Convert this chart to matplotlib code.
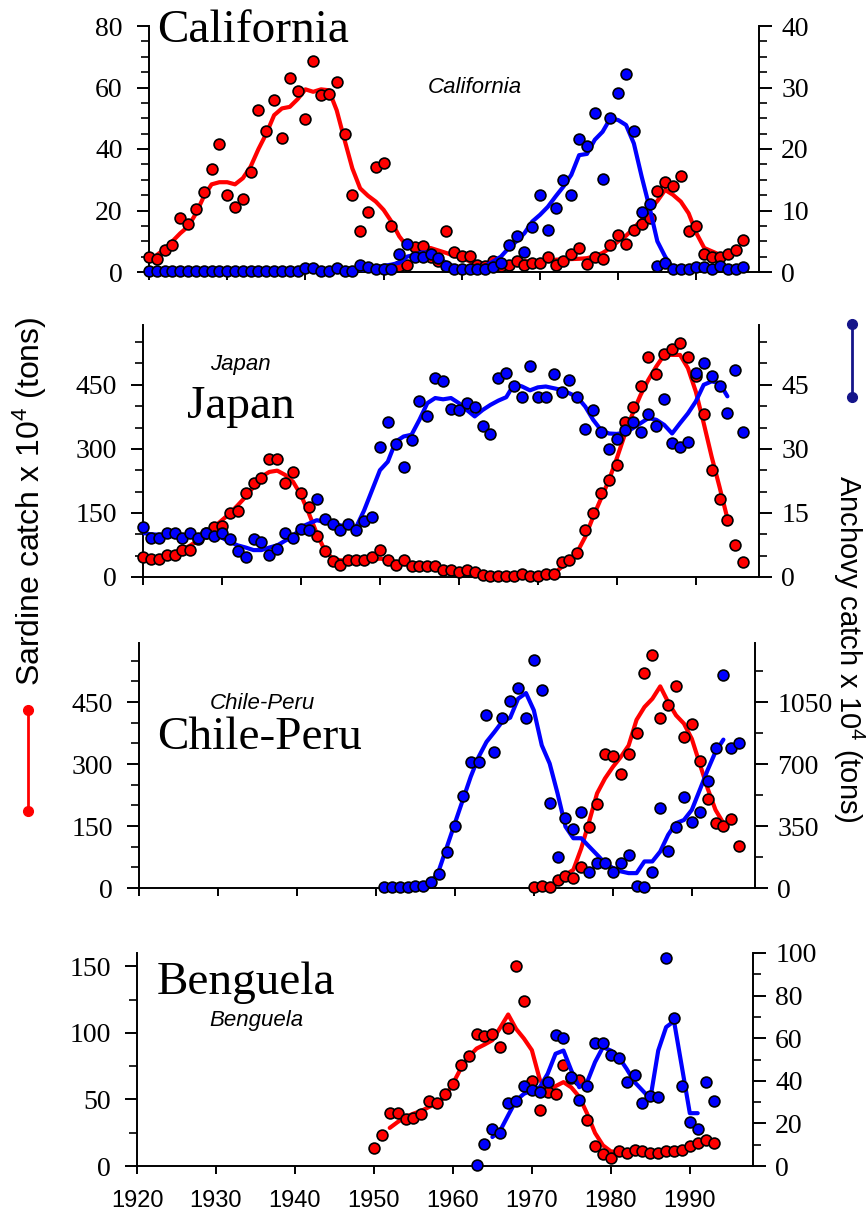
import numpy as np
import matplotlib
matplotlib.use("Agg")
import matplotlib.pyplot as plt
from matplotlib.lines import Line2D
from matplotlib.ticker import MultipleLocator

plt.rcParams['font.family'] = ['Liberation Serif', 'DejaVu Serif']
plt.rcParams['mathtext.default'] = 'regular'

# ------------------------------------------------------------------ data
# California (sardine: left axis, anchovy: right axis), x 10^4 tons
cal_years = np.arange(1920, 1997)
cal_sardine = [4.8, 4.2, 7.2, 8.9, 17.5, 15.7, 20.5, 26.0, 33.5, 41.6,
               25.0, 21.2, 23.8, 32.4, 52.8, 45.8, 55.9, 43.5, 63.1, 58.8,
               49.7, 68.6, 57.5, 57.9, 61.9, 44.8, 25.0, 13.4, 19.5, 34.2,
               35.5, 15.1, 1.8, 2.2, 8.1, 8.3, 5.0, 3.5, 13.4, 6.5,
               5.3, 5.3, 2.4, 1.8, 3.5, 2.0, 2.4, 3.5, 2.2, 2.9,
               2.9, 4.8, 2.2, 3.5, 5.9, 7.8, 2.7, 4.8, 4.2, 8.9,
               12.1, 9.1, 13.5, 15.7, 17.5, 26.2, 29.4, 28.1, 31.2, 13.4,
               15.1, 5.9, 4.8, 4.8, 5.9, 7.2, 10.3]
cal_anchovy = [0.2] * 20 + [
               0.6, 0.6, 0.2, 0.2, 0.6, 0.2, 0.2, 1.1, 0.8, 0.5,
               0.5, 0.5, 2.9, 4.5, 2.4, 2.4, 2.9, 2.3, 0.9, 0.5,
               0.5, 0.5, 0.5, 0.5, 0.8, 1.5, 4.4, 5.8, 3.2, 7.3,
               12.5, 6.8, 10.4, 15.0, 12.5, 21.7, 20.5, 25.8, 15.2, 25.1,
               29.1, 32.2, 22.9, 9.7, 11.1, 0.9, 1.5, 0.5, 0.5, 0.5,
               0.8, 0.8, 0.5, 0.9, 0.5, 0.5, 0.8]
cal_sardine_trend_years = np.arange(1921, 1995)
cal_sardine_trend = [5.5, 7.5, 10.0, 12.6, 14.8, 19.0, 24.5, 28.5, 29.2, 29.2,
                     28.5, 30.5, 34.3, 40.0, 45.0, 51.0, 53.2, 53.7, 56.2, 59.4,
                     58.6, 59.4, 59.1, 52.6, 43.0, 33.7, 27.2, 24.8, 22.9, 20.2,
                     16.4, 11.6, 8.3, 7.2, 7.2, 7.8, 7.0, 6.2, 5.3, 4.5,
                     3.5, 2.4, 1.8, 2.4, 2.7, 2.9, 3.2, 3.5, 3.5, 3.5,
                     3.8, 4.0, 4.1, 4.2, 4.3, 4.5, 5.1, 6.2, 7.8, 10.0,
                     11.8, 14.3, 17.0, 20.2, 23.1, 26.7, 25.1, 22.9, 19.1, 12.6,
                     7.8, 6.7, 5.6, 5.6]
cal_anchovy_trend_years = np.arange(1947, 1988)
cal_anchovy_trend = [0.3, 0.5, 0.8, 1.0, 1.2, 1.5, 2.5, 2.8, 3.2, 3.1,
                     2.3, 1.5, 0.9, 0.7, 0.6, 0.7, 1.0, 1.7, 2.5, 3.9,
                     5.0, 6.3, 8.2, 9.3, 10.6, 12.3, 13.9, 15.8, 19.0, 19.2,
                     21.5, 22.8, 25.0, 24.7, 23.9, 20.9, 15.5, 10.5, 5.0, 2.5,
                     0.6]

# Japan
jap_years = np.arange(1920, 1997)
jap_sardine = [47, 43, 43, 51, 51, 64, 64, 88, 102, 116,
               119, 150, 155, 197, 219, 232, 276, 276, 219, 245,
               197, 164, 95, 61, 38, 27, 39, 39, 39, 47,
               63, 39, 27, 39, 25, 25, 25, 25, 16, 16,
               12, 16, 12, 5, 2, 2, 2, 2, 8, 2,
               2, 6, 6, 34, 39, 56, 110, 151, 196, 228,
               262, 364, 399, 448, 516, 476, 522, 534, 548, 516,
               470, 381, 250, 182, 133, 74, 34]
jap_anchovy = [11.6, 9.2, 9.2, 10.2, 10.2, 9.2, 10.2, 9.2, 10.2, 9.6,
               10.2, 8.8, 6.1, 4.7, 8.8, 8.1, 5.1, 6.5, 10.2, 9.2,
               11.3, 11.0, 18.2, 13.5, 12.5, 11.0, 12.5, 11.0, 13.1, 14.1,
               30.4, 36.2, 31.1, 25.8, 32.1, 41.2, 37.6, 46.6, 45.8, 39.4,
               39.1, 40.7, 39.9, 35.4, 33.5, 46.6, 47.7, 44.8, 42.1, 49.3,
               42.1, 42.1, 47.6, 43.4, 46.2, 42.1, 34.6, 39.0, 33.9, 29.9,
               32.2, 34.4, 36.4, 33.9, 38.1, 35.4, 41.6, 31.3, 30.4, 31.7,
               47.7, 50.2, 47.1, 44.8, 38.5, 48.5, 34.0]
jap_sardine_trend_years = np.arange(1920, 1995)
jap_sardine_trend = [47, 46, 47, 51, 57, 64, 74, 86, 101, 117,
                     133, 149, 168, 188, 211, 235, 246, 249, 239, 223,
                     192, 149, 102, 63, 43, 39, 39, 39, 41, 41,
                     43, 41, 35, 31, 27, 25, 24, 23, 20, 17,
                     14, 12, 9, 6, 4, 3, 2, 2, 2, 2,
                     2, 4, 8, 23, 35, 59, 94, 141, 184, 227,
                     278, 333, 383, 426, 462, 493, 520, 520, 520, 489,
                     434, 360, 282, 211, 137]
jap_anchovy_trend_years = np.arange(1920, 1995)
jap_anchovy_trend = [10.3, 10.0, 9.9, 9.8, 9.6, 9.5, 9.4, 9.7, 10.0, 10.0,
                     9.2, 8.2, 7.4, 6.9, 6.3, 6.3, 6.9, 7.4, 8.5, 9.4,
                     11.7, 12.5, 13.3, 12.9, 12.5, 12.1, 11.7, 11.7, 15.6, 20.3,
                     25.0, 27.0, 31.7, 32.9, 33.3, 36.8, 40.7, 41.9, 41.6, 41.9,
                     40.7, 39.1, 37.6, 39.1, 40.3, 41.3, 42.1, 45.2, 44.6, 43.7,
                     44.4, 44.6, 44.2, 43.8, 43.0, 42.1, 39.9, 36.8, 34.4, 33.6,
                     33.5, 33.8, 34.8, 36.0, 37.2, 36.8, 35.6, 33.6, 36.0, 38.3,
                     41.1, 45.0, 45.8, 45.4, 42.3]

# Chile-Peru
chp_sardine_years = np.arange(1970, 1997)
chp_sardine = [1.6, 5.6, 1.6, 20, 28, 24, 51, 147, 203, 324,
               319, 275, 324, 375, 520, 565, 411, 442, 488, 365,
               398, 307, 215, 157, 151, 166, 102]
chp_anchovy_years = np.arange(1951, 1997)
chp_anchovy = [3, 3, 3, 3, 13, 13, 34, 79, 203, 352,
               521, 712, 712, 979, 769, 960, 1054, 1129, 960, 1288,
               1119, 482, 174, 398, 332, 429, 90, 144, 144, 90,
               144, 188, 13, 4, 90, 450, 210, 343, 516, 375,
               431, 606, 791, 1204, 788, 821]
chp_sardine_trend_years = np.arange(1974, 1995)
chp_sardine_trend = [32, 44, 96, 161, 229, 265, 293, 317, 345, 407,
                     438, 458, 488, 450, 418, 398, 361, 301, 241, 189, 157]
chp_anchovy_trend_years = np.arange(1954, 1995)
chp_anchovy_trend = [3, 6, 9, 28, 103, 234, 366, 497, 628, 740,
                     825, 881, 940, 962, 1069, 1101, 1003, 806, 703, 534,
                     347, 281, 281, 234, 188, 141, 113, 94, 84, 84,
                     150, 150, 206, 300, 366, 384, 441, 553, 666, 769, 838]

# Benguela
ben_sardine_years = np.arange(1950, 1994)
ben_sardine = [13.5, 23.6, 40, 40, 35, 36, 39, 48.6, 47.4, 54.4,
               61.4, 75.7, 82.7, 99.5, 97.7, 99.5, 89.5, 104, 150, 124,
               63.7, 41.9, 55.6, 54.4, 75.7, 66.2, 64.9, 34.8, 14.8, 9.3,
               6.3, 11, 9.8, 12.3, 11, 9.8, 9.8, 11, 11, 12.3,
               14.8, 17.3, 19.3, 17.3]
ben_anchovy_years = np.arange(1963, 1994)
ben_anchovy = [0.6, 10.2, 17.2, 15.5, 29.5, 30.3, 37.5, 35.5, 34.7, 39.4,
               61.3, 60.2, 41.7, 31.1, 37.5, 57.7, 57.7, 52.3, 50.6, 39.4,
               42.5, 29.5, 32.8, 32.3, 97.5, 69.4, 37.5, 20.6, 17.2, 39.4, 30.5]
ben_sardine_trend_years = np.arange(1952, 1992)
ben_sardine_trend = [28.6, 33, 36.8, 39.3, 41.4, 44.4, 46.9, 51.9, 61.9, 73.2,
                     82, 88.2, 91.2, 94.5, 104, 113.8, 103, 95.7, 87, 65,
                     56, 60, 63, 59, 52, 39.3, 24.8, 15.5, 11, 10.5,
                     10.5, 10.5, 10.5, 9.8, 10.3, 10.5, 11, 12.3, 14.3, 16.3]
ben_anchovy_trend_years = np.arange(1965, 1992)
ben_anchovy_trend = [13.6, 16.7, 23.8, 30.8, 33.9, 35.5, 37, 43.3, 52.7, 54.2,
                     44.8, 37, 39.4, 48.8, 55.8, 54.2, 51.1, 45.6, 39.4, 35.5,
                     31.6, 54.2, 65.2, 68, 46.4, 24.8, 24.8]

# tick labels
x_ticks = list(range(1920, 2000, 10))
cal_left_ticks = [0, 20, 40, 60, 80]
cal_right_ticks = [0, 10, 20, 30, 40]
jap_left_ticks = [0, 150, 300, 450]
jap_right_ticks = [0, 15, 30, 45]
chp_left_ticks = [0, 150, 300, 450]
chp_right_ticks = [0, 350, 700, 1050]
ben_left_ticks = [0, 50, 100, 150]
ben_right_ticks = [0, 20, 40, 60, 80, 100]

# ------------------------------------------------------------------ style
RED = '#ff0000'
BLUE = '#0000ff'
NAVY = '#15158a'
W, H = 866, 1213
fig = plt.figure(figsize=(W / 100, H / 100), dpi=100)


def rect(L, R, T, B):
    return [L / W, 1 - B / H, (R - L) / W, (B - T) / H]


def draw_panel(box, ylim_l, ylim_r, lt, rt, lminor, rminor,
               s_years, s_vals, s_ty, s_tv, a_years, a_vals, a_ty, a_tv,
               bottom_labels):
    ax = fig.add_axes(rect(*box))
    ax2 = ax.twinx()
    ax.set_xlim(1920, 1998)
    ax.set_ylim(*ylim_l)
    ax2.set_ylim(*ylim_r)
    ax.plot(s_ty, s_tv, color=RED, lw=3.0, zorder=2, solid_capstyle='round')
    ax.plot(s_years, s_vals, 'o', ms=7.8, mfc=RED, mec='black', mew=1.2,
            zorder=3, clip_on=False)
    ax2.plot(a_ty, a_tv, color=BLUE, lw=3.0, zorder=2, solid_capstyle='round')
    ax2.plot(a_years, a_vals, 'o', ms=7.8, mfc=BLUE, mec='black', mew=1.2,
             zorder=3, clip_on=False)
    for s in ['top', 'right']:
        ax.spines[s].set_visible(False)
    for s in ['top', 'left', 'bottom']:
        ax2.spines[s].set_visible(False)
    for s in ['left', 'bottom']:
        ax.spines[s].set_linewidth(1.4)
    ax2.spines['right'].set_linewidth(1.4)

    ax.set_xticks(x_ticks)
    if bottom_labels:
        ax.set_xticklabels([str(t) for t in x_ticks],
                           fontfamily='Liberation Sans', fontsize=17)
    else:
        ax.set_xticklabels([])
    ax.tick_params(axis='x', direction='out', length=6, width=1.4, pad=11)

    ax.set_yticks(lt)
    ax.set_yticklabels([str(t) for t in lt], fontfamily='Liberation Serif',
                       fontsize=20)
    ax.yaxis.set_minor_locator(MultipleLocator(lminor))
    ax.tick_params(axis='y', which='major', direction='out', length=9,
                   width=1.4, pad=10)
    ax.tick_params(axis='y', which='minor', direction='out', length=6,
                   width=1.2)

    ax2.set_yticks(rt)
    ax2.set_yticklabels([str(t) for t in rt], fontfamily='Liberation Serif',
                        fontsize=20)
    ax2.yaxis.set_minor_locator(MultipleLocator(rminor))
    ax2.tick_params(axis='y', which='major', direction='out', length=9,
                    width=1.4, pad=7)
    ax2.tick_params(axis='y', which='minor', direction='out', length=6,
                    width=1.2)
    return ax, ax2


draw_panel((149, 759, 26, 272), (0, 80), (0, 40), cal_left_ticks,
           cal_right_ticks, 5, 2.5,
           cal_years, cal_sardine, cal_sardine_trend_years, cal_sardine_trend,
           cal_years, cal_anchovy, cal_anchovy_trend_years, cal_anchovy_trend,
           False)
draw_panel((143, 759, 325, 577), (0, 590), (0, 59), jap_left_ticks,
           jap_right_ticks, 50, 5,
           jap_years, jap_sardine, jap_sardine_trend_years, jap_sardine_trend,
           jap_years, jap_anchovy, jap_anchovy_trend_years, jap_anchovy_trend,
           False)
draw_panel((139, 755, 643, 888), (0, 593), (0, 593 * 7 / 3), chp_left_ticks,
           chp_right_ticks, 50, 175,
           chp_sardine_years, chp_sardine, chp_sardine_trend_years,
           chp_sardine_trend,
           chp_anchovy_years, chp_anchovy, chp_anchovy_trend_years,
           chp_anchovy_trend, False)
draw_panel((137, 753, 953, 1166), (0, 160), (0, 100), ben_left_ticks,
           ben_right_ticks, 25, 10,
           ben_sardine_years, ben_sardine, ben_sardine_trend_years,
           ben_sardine_trend,
           ben_anchovy_years, ben_anchovy, ben_anchovy_trend_years,
           ben_anchovy_trend, True)

# panel titles
titles = [('California', 157, 42), ('Japan', 187, 418),
          ('Chile-Peru', 157, 749), ('Benguela', 157, 994)]
for t, x, y in titles:
    fig.text(x / W, 1 - y / H, t, fontsize=34, fontfamily='Liberation Serif',
             ha='left', va='baseline')

small = [('California', 475, 93), ('Japan', 240, 370),
         ('Chile-Peru', 262, 709), ('Benguela', 256, 1026)]
for t, x, y in small:
    fig.text(x / W, 1 - y / H, t, fontsize=16, fontfamily='Liberation Sans',
             style='italic', ha='center', va='baseline')

# axis labels
fig.text(30 / W, 1 - 501 / H, 'Sardine catch x 10$^{4}$ (tons)',
         fontfamily='Liberation Sans', fontsize=23, rotation=90,
         ha='center', va='center')
fig.text(849 / W, 1 - 649 / H, 'Anchovy catch x 10$^{4}$ (tons)',
         fontfamily='Liberation Sans', fontsize=21, rotation=270,
         ha='center', va='center')

# legend-like series keys
fig.add_artist(Line2D([28 / W, 28 / W], [1 - 710 / H, 1 - 811 / H],
                      transform=fig.transFigure, color=RED, lw=2,
                      marker='o', ms=7, mfc=RED, mec=RED))
fig.add_artist(Line2D([852 / W, 852 / W], [1 - 324 / H, 1 - 397 / H],
                      transform=fig.transFigure, color=NAVY, lw=2,
                      marker='o', ms=7, mfc=NAVY, mec=NAVY))

fig.savefig('out.png', dpi=100)
